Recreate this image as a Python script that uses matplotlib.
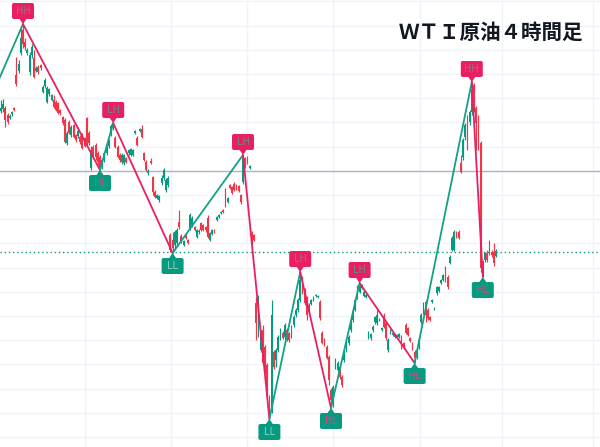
import numpy as np
import matplotlib
matplotlib.use('Agg')
import matplotlib.pyplot as plt
from matplotlib.patches import FancyBboxPatch, Polygon
from matplotlib.transforms import IdentityTransform

# ---- 4H candle data (price units) ----
opens = [
    389, 391, 392, 385, 382, 386, 392, 425, 429, 447,
    470, 458, 447, 428, 445, 442, 429, 433, 435, 408,
    414, 398, 406, 400, 400, 398, 397, 390, 383, 380,
    357, 378, 365, 375, 365, 364, 363, 365, 362, 382,
    367, 332, 353, 355, 347, 343, 334, 340, 347, 354,
    367, 372, 362, 353, 345, 338, 337, 342, 347, 345,
    345, 367, 362, 369, 371, 347, 338, 327, 339, 323,
    308, 302, 300, 317, 322, 310, 315, 265, 260, 255,
    257, 278, 264, 255, 265, 260, 272, 275, 273, 263,
    268, 277, 275, 273, 282, 260, 266, 270, 280, 283,
    287, 290, 310, 298, 315, 313, 316, 315, 314, 305,
    318, 342, 343, 332, 267, 265, 197, 180, 150, 170,
    153, 135, 103, 90, 148, 140, 150, 162, 167, 163,
    170, 167, 164, 175, 185, 190, 200, 222, 210, 202,
    188, 196, 200, 204, 203, 198, 167, 160, 153, 143,
    110, 100, 133, 130, 133, 123, 140, 150, 157, 170,
    180, 190, 203, 208, 212, 204, 203, 162, 162, 170,
    178, 177, 180, 170, 184, 177, 150, 167, 165, 163,
    165, 163, 163, 157, 175, 172, 162, 157, 148, 143,
    153, 178, 188, 198, 190, 183, 198, 191, 207, 209,
    217, 220, 232, 223, 237, 250, 250, 268, 268, 337,
    343, 363, 383, 378, 388, 415, 392, 382, 357, 225,
    240, 247, 255, 248, 248, 244,
]
closes = [
    392, 396, 380, 378, 384, 388, 390, 416, 436, 462,
    456, 453, 450, 445, 453, 423, 432, 428, 432, 413,
    420, 412, 411, 405, 393, 390, 387, 387, 377, 358,
    367, 367, 373, 363, 360, 369, 358, 352, 354, 358,
    357, 350, 343, 343, 338, 332, 340, 347, 354, 360,
    374, 375, 353, 343, 340, 345, 345, 338, 350, 351,
    350, 369, 355, 371, 363, 340, 330, 329, 337, 308,
    303, 305, 304, 322, 330, 320, 322, 250, 252, 268,
    270, 273, 258, 259, 262, 257, 285, 282, 270, 270,
    269, 270, 270, 270, 263, 267, 270, 268, 283, 285,
    288, 288, 295, 302, 312, 307, 310, 311, 309, 298,
    342, 333, 337, 334, 258, 260, 177, 195, 167, 137,
    130, 113, 90, 185, 133, 150, 163, 170, 162, 175,
    160, 160, 173, 183, 190, 200, 220, 208, 197, 185,
    195, 200, 203, 205, 204, 182, 157, 155, 142, 120,
    100, 113, 138, 137, 123, 115, 147, 157, 163, 177,
    188, 200, 213, 214, 215, 208, 205, 167, 166, 173,
    183, 185, 181, 172, 173, 162, 160, 170, 167, 165,
    162, 166, 152, 152, 167, 165, 159, 152, 142, 150,
    160, 185, 197, 185, 182, 180, 200, 192, 213, 213,
    220, 225, 220, 213, 243, 262, 268, 263, 262, 328,
    360, 375, 367, 388, 410, 390, 377, 355, 232, 238,
    247, 240, 248, 245, 237, 249,
]
highs = [
    400, 401, 394, 387, 386, 389, 393, 443, 440, 472,
    476, 462, 452, 448, 456, 450, 434, 435, 436, 415,
    422, 414, 412, 406, 405, 400, 398, 391, 384, 382,
    369, 380, 375, 376, 366, 373, 365, 367, 363, 383,
    369, 354, 355, 357, 349, 345, 342, 348, 355, 361,
    376, 377, 364, 355, 347, 347, 346, 343, 351, 352,
    351, 370, 364, 372, 375, 348, 340, 331, 342, 324,
    310, 306, 305, 325, 332, 322, 324, 267, 268, 270,
    272, 290, 266, 260, 266, 261, 287, 284, 274, 271,
    271, 278, 276, 274, 285, 268, 271, 271, 284, 286,
    289, 291, 312, 303, 316, 314, 318, 316, 315, 306,
    345, 343, 344, 335, 269, 266, 203, 205, 170, 175,
    155, 137, 105, 200, 150, 152, 165, 172, 169, 177,
    172, 168, 175, 185, 192, 202, 228, 224, 212, 204,
    197, 201, 204, 206, 205, 200, 169, 162, 155, 145,
    112, 115, 142, 139, 134, 125, 149, 159, 165, 180,
    190, 202, 215, 217, 216, 210, 206, 169, 167, 175,
    184, 190, 182, 173, 187, 178, 162, 171, 168, 166,
    166, 167, 165, 158, 177, 173, 163, 158, 150, 152,
    162, 187, 198, 200, 192, 184, 201, 193, 214, 214,
    221, 226, 234, 225, 245, 264, 270, 269, 270, 345,
    362, 377, 385, 390, 418, 417, 394, 385, 359, 240,
    248, 250, 260, 250, 257, 251,
]
lows = [
    387, 388, 373, 376, 381, 384, 389, 414, 427, 445,
    452, 450, 445, 425, 442, 422, 428, 426, 430, 407,
    412, 397, 404, 399, 392, 389, 386, 385, 375, 357,
    355, 366, 363, 362, 358, 362, 356, 351, 353, 355,
    355, 330, 341, 340, 335, 330, 331, 338, 345, 352,
    364, 370, 352, 342, 338, 336, 335, 337, 345, 344,
    344, 366, 354, 368, 362, 339, 329, 325, 336, 305,
    302, 301, 298, 315, 320, 308, 313, 248, 247, 250,
    254, 271, 257, 254, 261, 256, 270, 273, 269, 262,
    266, 269, 269, 268, 262, 259, 265, 267, 279, 282,
    286, 287, 293, 297, 311, 306, 309, 310, 308, 296,
    316, 332, 336, 331, 256, 259, 160, 163, 148, 135,
    127, 103, 81, 87, 131, 133, 148, 160, 161, 161,
    159, 158, 162, 173, 183, 188, 198, 206, 195, 180,
    187, 195, 199, 203, 202, 180, 156, 154, 141, 115,
    92, 93, 131, 128, 121, 113, 138, 148, 155, 168,
    178, 189, 201, 207, 211, 203, 202, 161, 160, 168,
    176, 175, 179, 169, 172, 160, 148, 166, 164, 162,
    161, 162, 151, 151, 166, 164, 158, 150, 137, 141,
    151, 176, 186, 178, 180, 179, 197, 190, 205, 208,
    216, 219, 218, 211, 236, 249, 249, 262, 261, 327,
    340, 360, 350, 375, 385, 388, 350, 350, 228, 223,
    238, 238, 245, 243, 234, 243,
]

# ---- zigzag swing points (candle index, price, label) ----
pivot_idx = [-8, 10, 45, 51, 78, 110, 122, 136, 150, 163, 188, 214, 219]
pivot_price = [385, 476, 330, 377, 247, 345, 81, 228, 92, 217, 137, 418, 223]
pivot_labels = ['', 'HH', 'HL', 'LH', 'LL', 'LH', 'LL', 'LH', 'HL', 'LH', 'HL', 'HH', 'HL']

# ---- reference levels ----
resistance_level = 329
current_price_level = 248.3

title = 'ＷＴＩ原油４時間足'

GREEN = '#089981'
RED = '#F23645'
PINK = '#E91E63'
ZZ_GREEN = '#14a085'

fig = plt.figure(figsize=(6, 4.47), dpi=100)
ax = fig.add_axes([0, 0, 1, 1])
ax.set_xlim(-0.4545, 272.27)
ax.set_ylim(53, 500)
for s in ax.spines.values():
    s.set_visible(False)
ax.set_yticks(np.arange(63, 500, 24.2))
ax.set_xticks([38.2, 77.3, 111.8, 150.9, 190.5, 227.7, 269.1])
ax.tick_params(length=0, labelbottom=False, labelleft=False)
ax.grid(True, color='#f0f3fa', lw=1)
ax.set_axisbelow(True)

ax.axhline(resistance_level, color='#b2b5be', lw=1, zorder=1)
ax.axhline(current_price_level, color=GREEN, lw=1, ls=(0, (1, 2)), zorder=1)

o = np.array(opens, float)
c = np.array(closes, float)
h = np.array(highs, float)
l = np.array(lows, float)
idx = np.arange(len(o))
cols = [GREEN if cc >= oo else RED for oo, cc in zip(o, c)]
ax.vlines(idx, l, h, colors=cols, lw=0.85, zorder=2)
ax.bar(idx, c - o, bottom=o, width=0.82, color=cols, lw=0, zorder=3)

# zigzag
for k in range(len(pivot_idx) - 1):
    x0, x1 = pivot_idx[k], pivot_idx[k + 1]
    y0, y1 = pivot_price[k], pivot_price[k + 1]
    col = ZZ_GREEN if y1 > y0 else PINK
    ax.plot([x0, x1], [y0, y1], color=col, lw=1.3, zorder=4, solid_capstyle='round')

# labels
text_cols = {'HH': '#6a8a88', 'LH': '#6a8a88', 'HL': '#d8467a', 'LL': '#7fd6bf'}
ident = IdentityTransform()
W, H, PH, PW = 22, 16, 5, 4.5
for i, p, lab in zip(pivot_idx, pivot_price, pivot_labels):
    if not lab:
        continue
    X, Y = ax.transData.transform((i, p))
    up = lab in ('HH', 'LH')
    fc = PINK if up else GREEN
    s = 1 if up else -1
    base = Y + s * PH
    tri = Polygon([[X, Y], [X - PW, base + s * 1.5], [X + PW, base + s * 1.5]], closed=True,
                  transform=ident, fc=fc, ec='none', zorder=6)
    fig.add_artist(tri)
    y0 = base if up else base - H
    box = FancyBboxPatch((X - W / 2 + 2, y0 + 2), W - 4, H - 4,
                         boxstyle='round,pad=2', transform=ident,
                         fc=fc, ec='none', zorder=6)
    fig.add_artist(box)
    fig.text(X, y0 + H / 2, lab, transform=ident, ha='center', va='center',
             fontsize=7, color=text_cols[lab], zorder=7,
             family=['DejaVu Sans'])

fig.text(583 / 600, 1 - 32.5 / 447, title, ha='right', va='center',
         fontsize=14.8, fontweight='bold', color='#131722',
         family=['Noto Sans CJK JP', 'DejaVu Sans'])

fig.savefig('out.png', dpi=100)
